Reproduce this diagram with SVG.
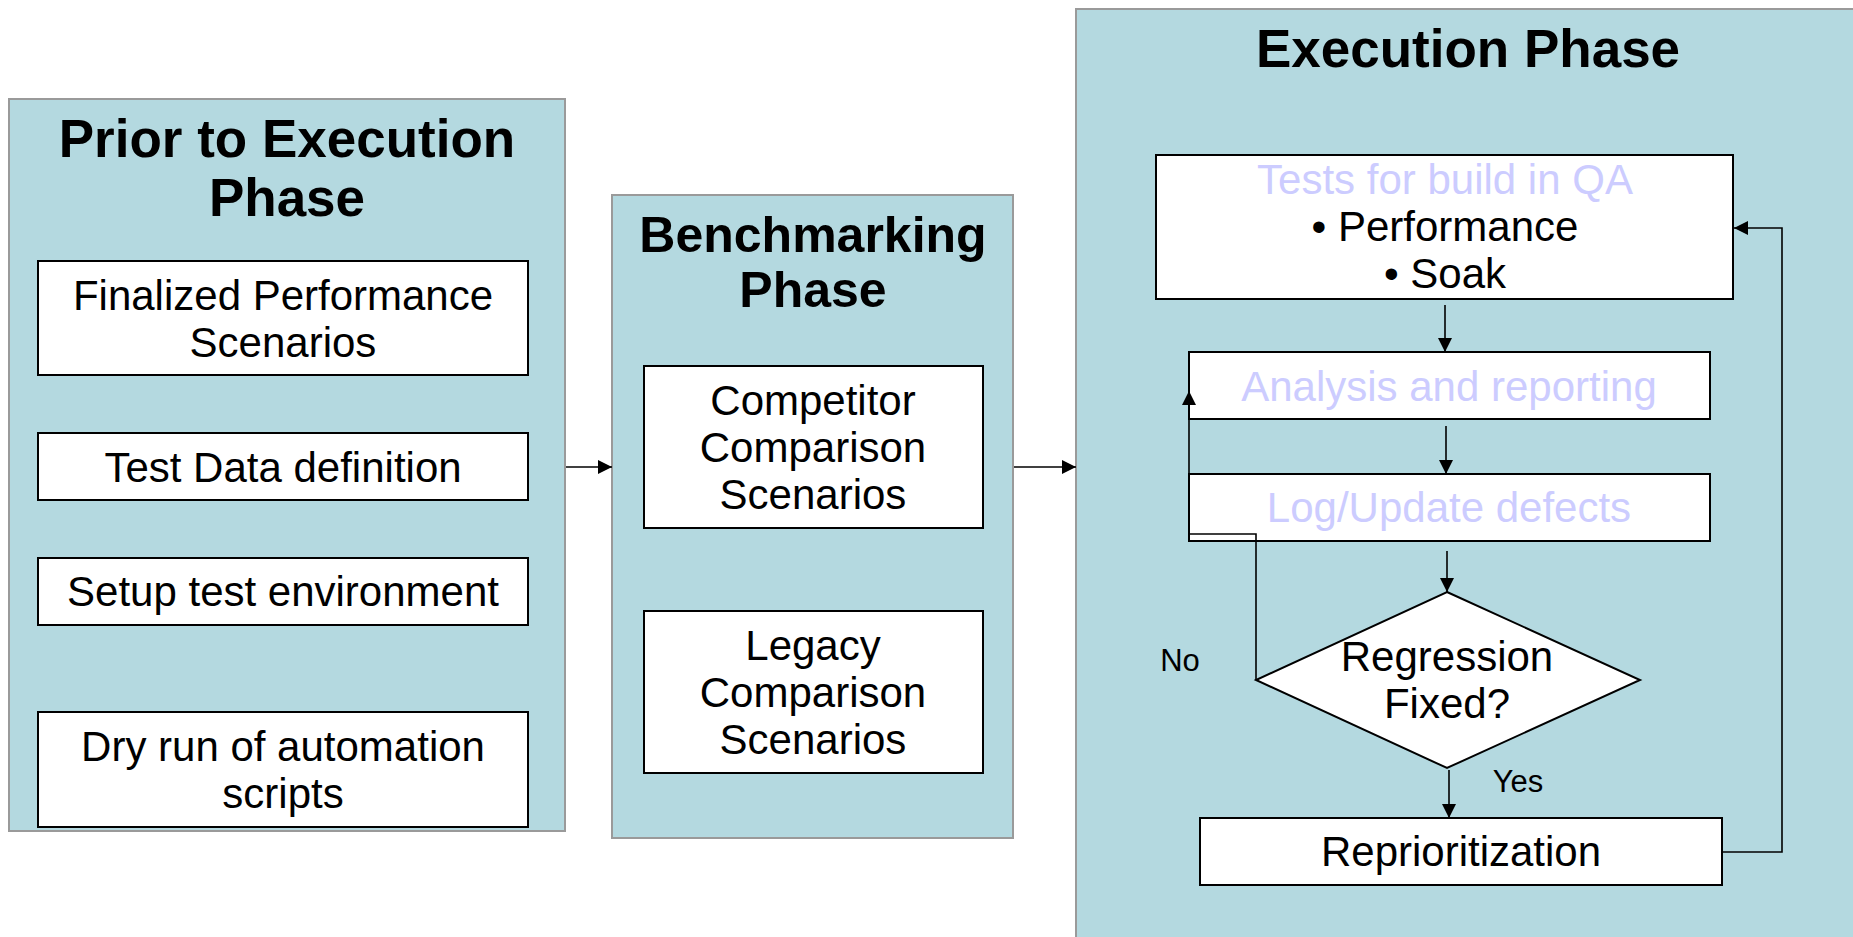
<svg xmlns="http://www.w3.org/2000/svg" width="1853" height="937" viewBox="0 0 1853 937">
  <style>
    .panel { fill: #b4d9e0; stroke: #9a9a9a; stroke-width: 2; }
    .box { fill: #ffffff; stroke: #000000; stroke-width: 2; }
    .title { font-family: "Liberation Sans", Arial, sans-serif; font-weight: bold; fill: #000000; text-anchor: middle; }
    .txt { font-family: "Liberation Sans", Arial, sans-serif; font-size: 42px; fill: #000000; text-anchor: middle; }
    .faint { fill: #ccccff; }
    .lbl { font-family: "Liberation Sans", Arial, sans-serif; font-size: 31px; fill: #000000; text-anchor: middle; }
    .wire { fill: none; stroke: #000000; stroke-width: 1.6; }
  </style>
  <defs>
    <marker id="arrow" markerUnits="userSpaceOnUse" markerWidth="14" markerHeight="14" refX="14" refY="7" orient="auto">
      <path d="M0,0 L14,7 L0,14 Z" fill="#000000"/>
    </marker>
  </defs>

  <rect width="1853" height="937" fill="#ffffff"/>

  <!-- Phase panels -->
  <g id="panel-prior">
    <rect class="panel" x="9" y="99" width="556" height="732"/>
    <text class="title" x="287" y="157" font-size="53">Prior to Execution</text>
    <text class="title" x="287" y="216" font-size="53">Phase</text>
  </g>
  <g id="panel-benchmark">
    <rect class="panel" x="612" y="195" width="401" height="643"/>
    <text class="title" x="813" y="252" font-size="50">Benchmarking</text>
    <text class="title" x="813" y="307" font-size="50">Phase</text>
  </g>
  <g id="panel-execution">
    <rect class="panel" x="1076" y="9" width="790" height="940"/>
    <text class="title" x="1468" y="67" font-size="53">Execution Phase</text>
  </g>

  <!-- Prior to Execution steps -->
  <g id="finalized-scenarios">
    <rect class="box" x="38" y="261" width="490" height="114"/>
    <text class="txt" x="283" y="310">Finalized Performance</text>
    <text class="txt" x="283" y="357">Scenarios</text>
  </g>
  <g id="test-data">
    <rect class="box" x="38" y="433" width="490" height="67"/>
    <text class="txt" x="283" y="482">Test Data definition</text>
  </g>
  <g id="setup-env">
    <rect class="box" x="38" y="558" width="490" height="67"/>
    <text class="txt" x="283" y="606">Setup test environment</text>
  </g>
  <g id="dry-run">
    <rect class="box" x="38" y="712" width="490" height="115"/>
    <text class="txt" x="283" y="761">Dry run of automation</text>
    <text class="txt" x="283" y="808">scripts</text>
  </g>

  <!-- Benchmarking steps -->
  <g id="competitor">
    <rect class="box" x="644" y="366" width="339" height="162"/>
    <text class="txt" x="813" y="415">Competitor</text>
    <text class="txt" x="813" y="462">Comparison</text>
    <text class="txt" x="813" y="509">Scenarios</text>
  </g>
  <g id="legacy">
    <rect class="box" x="644" y="611" width="339" height="162"/>
    <text class="txt" x="813" y="660">Legacy</text>
    <text class="txt" x="813" y="707">Comparison</text>
    <text class="txt" x="813" y="754">Scenarios</text>
  </g>

  <!-- Execution flow -->
  <g id="tests-build">
    <rect class="box" x="1156" y="155" width="577" height="144"/>
    <text class="txt faint" x="1445" y="194">Tests for build in QA</text>
    <text class="txt" x="1445" y="241">• Performance</text>
    <text class="txt" x="1445" y="288">• Soak</text>
  </g>
  <g id="analysis">
    <rect class="box" x="1189" y="352" width="521" height="67"/>
    <text class="txt faint" x="1449" y="401">Analysis and reporting</text>
  </g>
  <g id="log-defects">
    <rect class="box" x="1189" y="474" width="521" height="67"/>
    <text class="txt faint" x="1449" y="522">Log/Update defects</text>
  </g>
  <g id="regression-check">
    <polygon class="box" points="1447,592 1640,680 1447,768 1256,680"/>
    <text class="txt" x="1447" y="671">Regression</text>
    <text class="txt" x="1447" y="718">Fixed?</text>
  </g>
  <g id="reprioritization">
    <rect class="box" x="1200" y="818" width="522" height="67"/>
    <text class="txt" x="1461" y="866">Reprioritization</text>
  </g>

  <!-- Connectors -->
  <g id="connectors">
    <line class="wire" x1="566" y1="467" x2="612" y2="467" marker-end="url(#arrow)"/>
    <line class="wire" x1="1014" y1="467" x2="1076" y2="467" marker-end="url(#arrow)"/>
    <line class="wire" x1="1445" y1="305" x2="1445" y2="352" marker-end="url(#arrow)"/>
    <line class="wire" x1="1446" y1="426" x2="1446" y2="474" marker-end="url(#arrow)"/>
    <line class="wire" x1="1447" y1="551" x2="1447" y2="592" marker-end="url(#arrow)"/>
    <line class="wire" x1="1449" y1="770" x2="1449" y2="818" marker-end="url(#arrow)"/>
    <polyline class="wire" points="1722,852 1782,852 1782,228 1734,228" marker-end="url(#arrow)"/>
    <polyline class="wire" points="1256,680 1256,534 1189,534 1189,391" marker-end="url(#arrow)"/>
    <text class="lbl" x="1180" y="671">No</text>
    <text class="lbl" x="1518" y="792">Yes</text>
  </g>
</svg>
